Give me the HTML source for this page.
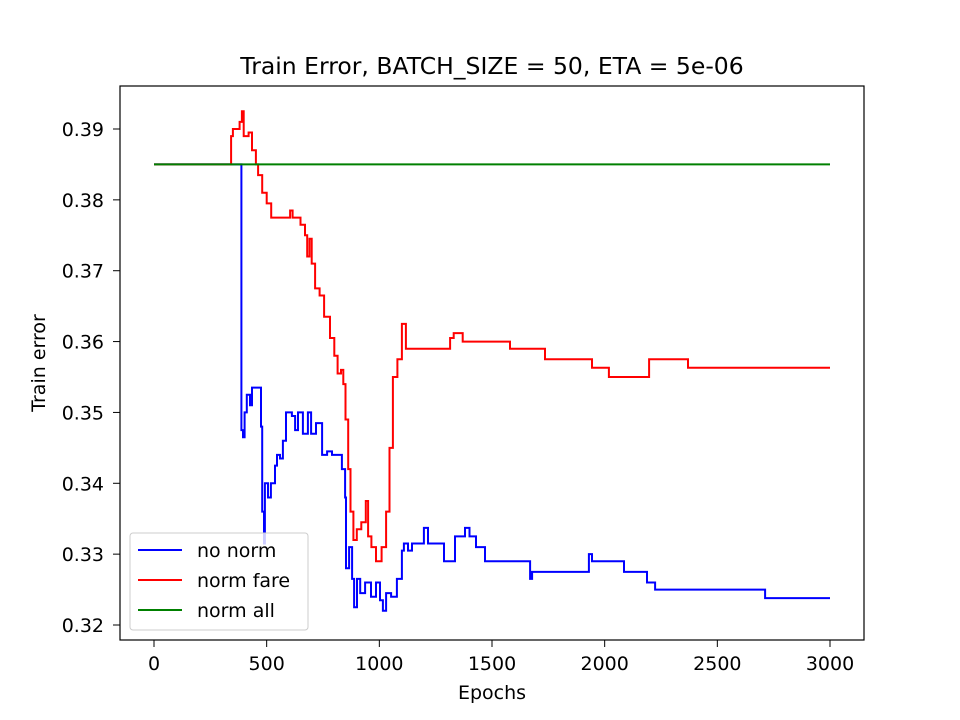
<!DOCTYPE html>
<html><head><meta charset="utf-8"><style>
body{margin:0;background:#fff;}
svg{display:block;font-family:"DejaVu Sans","Liberation Sans",sans-serif;}
</style></head><body>
<svg id="chart" width="960" height="720">
<rect width="960" height="720" fill="#fff"/>
<text x="492" y="74" font-size="23.5" text-anchor="middle">Train Error, BATCH_SIZE = 50, ETA = 5e-06</text>
<g id="xt"></g><g id="yt"></g><g id="series"></g>
<rect x="120" y="86" width="744" height="554" fill="none" stroke="#000" stroke-width="1.2"/>
<text x="492" y="699" font-size="19" text-anchor="middle">Epochs</text>
<text transform="translate(45,363) rotate(-90)" font-size="19" text-anchor="middle">Train error</text>
<g>
<rect x="130" y="533" width="178" height="97" rx="3" fill="#fff" fill-opacity="0.8" stroke="#ccc"/>
<line x1="138" y1="550" x2="182" y2="550" stroke="#0000ff" stroke-width="2"/>
<text x="197" y="557" font-size="19">no norm</text>
<line x1="138" y1="580" x2="182" y2="580" stroke="#ff0000" stroke-width="2"/>
<text x="197" y="587" font-size="19">norm fare</text>
<line x1="138" y1="610" x2="182" y2="610" stroke="#008000" stroke-width="2"/>
<text x="197" y="617" font-size="19">norm all</text>
</g>
</svg>
<script>
const xTicks=[0,500,1000,1500,2000,2500,3000];
const yTicks=[0.32,0.33,0.34,0.35,0.36,0.37,0.38,0.39];
const lastEpoch=3000;
const greenEpochs=[0];
const greenValues=[0.385];
const redEpochs=[0,342,350,380,390,398,420,435,452,462,
480,500,520,604,615,650,670,680,690,700,
715,735,755,781,800,815,830,840,850,862,
872,885,900,920,940,950,965,985,1010,1030,
1045,1060,1080,1100,1118,1314,1330,1370,1580,1735,
1944,2019,2197,2370];
const redValues=[0.385,0.389,0.390,0.391,0.3925,0.389,0.3895,0.387,0.385,0.3835,
0.381,0.3795,0.3775,0.3785,0.3775,0.3765,0.375,0.372,0.3745,0.371,
0.3675,0.3665,0.3635,0.3605,0.358,0.3555,0.356,0.354,0.349,0.342,
0.336,0.332,0.3335,0.3345,0.3375,0.3325,0.331,0.329,0.331,0.336,
0.345,0.355,0.3575,0.3625,0.359,0.3605,0.3612,0.360,0.359,0.3575,
0.3563,0.355,0.3575,0.3563];
const blueEpochs=[0,388,395,402,412,426,435,475,480,488,
492,506,519,537,546,559,572,586,612,626,
639,661,683,697,719,746,768,790,834,848,
852,866,879,888,901,915,937,963,985,1003,
1016,1030,1052,1078,1100,1109,1127,1145,1198,1216,
1287,1336,1380,1400,1429,1469,1669,1678,1930,1944,
2086,2188,2224,2712];
const blueValues=[0.385,0.3475,0.3465,0.350,0.3525,0.351,0.3535,0.348,0.336,0.3315,
0.340,0.338,0.340,0.3425,0.344,0.3435,0.346,0.350,0.3495,0.3475,
0.350,0.347,0.350,0.347,0.3485,0.344,0.3445,0.344,0.342,0.338,
0.328,0.331,0.3265,0.3225,0.3265,0.3245,0.326,0.324,0.326,0.3235,
0.322,0.3245,0.324,0.3265,0.3305,0.3315,0.3305,0.3315,0.3337,0.3315,
0.329,0.3325,0.3337,0.3325,0.331,0.329,0.3265,0.3275,0.330,0.329,
0.3275,0.326,0.325,0.3238];
const NS='http://www.w3.org/2000/svg';
function xs(e){return 154+e*(676/3000);}
function ys(v){return 129+(0.39-v)*(496/0.07);}
const xt=document.getElementById('xt'),yt=document.getElementById('yt'),sg=document.getElementById('series');
xTicks.forEach(t=>{
 const l=document.createElementNS(NS,'line');
 l.setAttribute('x1',xs(t));l.setAttribute('x2',xs(t));l.setAttribute('y1',640);l.setAttribute('y2',647);l.setAttribute('stroke','#000');
 
 
 xt.appendChild(l);
 const s=document.createElementNS(NS,'text');
 s.setAttribute('x',xs(t));s.setAttribute('y',670);s.setAttribute('font-size','19');s.setAttribute('text-anchor','middle');s.textContent=t;
 
 
 xt.appendChild(s);
});
yTicks.forEach(t=>{
 const l=document.createElementNS(NS,'line');
 l.setAttribute('x1',113);l.setAttribute('x2',120);l.setAttribute('y1',ys(t));l.setAttribute('y2',ys(t));l.setAttribute('stroke','#000');
 
 
 yt.appendChild(l);
 const s=document.createElementNS(NS,'text');
 s.setAttribute('x',104);s.setAttribute('y',ys(t)+7);s.setAttribute('font-size','19');s.setAttribute('text-anchor','end');s.textContent=t.toFixed(2);
 
 
 yt.appendChild(s);
});
function stepLine(ex,vs,color,name){
 const pts=[];
 for(let i=0;i<ex.length;i++){
  const e1=(i+1<ex.length)?ex[i+1]:lastEpoch;
  pts.push(xs(ex[i]).toFixed(1)+','+ys(vs[i]).toFixed(1));
  pts.push(xs(e1).toFixed(1)+','+ys(vs[i]).toFixed(1));
 }
 const p=document.createElementNS(NS,'polyline');
 p.setAttribute('points',pts.join(' '));
 p.setAttribute('fill','none');p.setAttribute('stroke',color);p.setAttribute('stroke-width','2');p.setAttribute('stroke-linejoin','miter');
 
 
 sg.appendChild(p);
}
stepLine(blueEpochs,blueValues,'#0000ff','series-no-norm');
stepLine(redEpochs,redValues,'#ff0000','series-norm-fare');
stepLine(greenEpochs,greenValues,'#008000','series-norm-all');
</script>
</body></html>
